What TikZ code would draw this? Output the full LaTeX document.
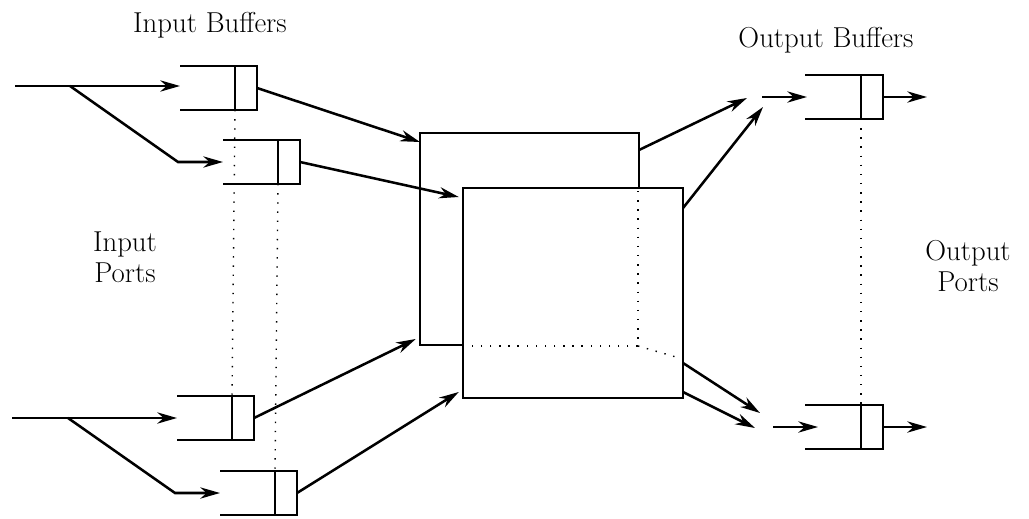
\documentclass[tikz,border=0pt]{standalone}
\usetikzlibrary{arrows.meta}
\begin{document}
\begin{tikzpicture}[x=0.025cm,y=-0.025cm,
  line width=1.8pt,
  arr/.style={-{Stealth[length=14pt,width=8pt,inset=4.5pt]}},
  buf/.style={draw,line width=1.4pt,minimum width=0.55cm,minimum height=1.1cm,inner sep=0pt,outer sep=0pt},
  hid/.style={line width=1pt,dash pattern=on 1pt off 5.5pt},
  lab/.style={font=\fontsize{20.5}{22}\selectfont,align=center,inner sep=0pt},
  swbox/.style={draw,line width=1.8pt,inner sep=0pt,outer sep=0pt}]
\useasboundingbox (0,0) rectangle (1029,518);

% labels
\node[lab] (lib) at (210,25) {Input Buffers};
\node[lab] (lob) at (826,40) {Output Buffers};
\node[lab] (lip) at (125,257) {Input\\Ports};
\node[lab] (lop) at (968,266) {Output\\Ports};

% input buffers
\node[buf] (ib1) at (246,88) {};
\node[buf] (ib2) at (289,162) {};
\node[buf] (ib3) at (243,418) {};
\node[buf] (ib4) at (286,493) {};
\foreach \b in {ib1,ib2,ib3,ib4}{
  \draw (\b.north west) -- ++(-55,0);
  \draw (\b.south west) -- ++(-55,0);
}
% output buffers
\node[buf] (ob1) at (872,97) {};
\node[buf] (ob2) at (872,427) {};
\foreach \b in {ob1,ob2}{
  \draw (\b.north west) -- ++(-56,0);
  \draw (\b.south west) -- ++(-56,0);
}

% dotted port lines
\draw[hid] (ib1.south west) -- (ib3.north west);
\draw[hid] (ib2.south west) -- (ib4.north west);
\draw[hid] (ob1.south west) -- (ob2.north west);

% switch boxes
\node[swbox,minimum width=5.475cm,minimum height=5.3cm] (sw1) at (529.5,239) {};
\node[swbox,fill=white,minimum width=5.5cm,minimum height=5.25cm] (sw2) at (573,293) {};
\coordinate (hc) at (638,346);
\draw[hid] (638,191) -- (hc) -- (466,346);
\draw[hid] (hc) -- (676,357);

% input port lines
\coordinate (p1) at (15,86);
\coordinate (b1) at (70,86);
\coordinate (k1) at (178,162);
\coordinate (m1) at (180,86);
\coordinate (m2) at (223,162);
\draw[arr] (p1) -- (m1);
\draw[arr] (b1) -- (k1) -- (m2);

\coordinate (p2) at (12,418);
\coordinate (b2) at (68,418);
\coordinate (k2) at (175,493);
\coordinate (m3) at (177,418);
\coordinate (m4) at (220,493);
\draw[arr] (p2) -- (m3);
\draw[arr] (b2) -- (k2) -- (m4);

% buffers to switch
\draw[arr] (ib1.east) -- (sw1.west |- 0,142);
\draw[arr] (ib2.east) -- ([xshift=-3pt]sw2.west |- 0,197);
\draw[arr] (ib3.east) -- ([xshift=-3pt]sw1.west |- 0,339);
\draw[arr] (ib4.east) -- ([xshift=-3pt]sw2.west |- 0,392);

% switch to outputs
\coordinate (o1) at (747,98);
\coordinate (o2) at (763,107);
\coordinate (o3) at (760,413);
\coordinate (o4) at (755,428);
\draw[arr] (sw1.east |- 0,150) -- (o1);
\draw[arr] (sw2.east |- 0,208) -- (o2);
\draw[arr] (sw2.east |- 0,363) -- (o3);
\draw[arr] (sw2.east |- 0,392) -- (o4);

% output buffer arrows
\coordinate (q1) at (762,97);
\coordinate (r1) at (807,97);
\coordinate (q2) at (773,427);
\coordinate (r2) at (818,427);
\draw[arr] (q1) -- (r1);
\draw[arr] (q2) -- (r2);
\coordinate (e1) at (927,97);
\coordinate (e2) at (927,427);
\draw[arr] (ob1.east) -- (e1);
\draw[arr] (ob2.east) -- (e2);
\end{tikzpicture}
\end{document}
